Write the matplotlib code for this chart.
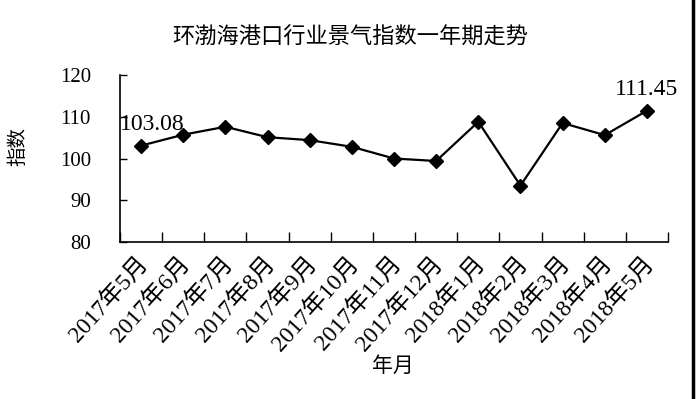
import numpy as np
import matplotlib
matplotlib.use('Agg')
import matplotlib.pyplot as plt
import matplotlib.transforms as mtransforms
from matplotlib.lines import Line2D

plt.rcParams['font.family'] = ['Liberation Serif', 'Noto Sans CJK SC', 'DejaVu Sans']

# data
months = ['2017年5月', '2017年6月', '2017年7月', '2017年8月', '2017年9月',
          '2017年10月', '2017年11月', '2017年12月', '2018年1月', '2018年2月',
          '2018年3月', '2018年4月', '2018年5月']
index_vals = [103.08, 105.7, 107.6, 105.1, 104.4, 102.8, 100.0, 99.4,
              108.8, 93.5, 108.5, 105.6, 111.45]
yticks = [80, 90, 100, 110, 120]

fig = plt.figure(figsize=(6.96, 3.99), dpi=100)
ax = fig.add_axes([120/696, 1-242/399, (668-120)/696, (242-75)/399])

x = np.arange(len(months))
ax.plot(x, index_vals, color='black', lw=1.6, marker='D', ms=7,
        mfc='black', mec='black')

ax.set_xlim(-0.5, len(months)-0.5)
ax.set_ylim(80, 120)
ax.set_yticks(yticks)
ax.set_yticklabels([str(v) for v in yticks], fontsize=15)
ax.tick_params(axis='y', direction='in', length=5, width=1, pad=21)

# category labels with ticks at boundaries
ax.set_xticks(x)
ax.set_xticklabels(months, fontsize=17, rotation=48, ha='right', va='top',
                   rotation_mode='anchor')
ax.tick_params(axis='x', which='major', length=0, pad=8)
ax.set_xticks(np.arange(-0.5, len(months), 1.0), minor=True)
ax.tick_params(axis='x', which='minor', direction='in', length=7, width=1)
off = mtransforms.ScaledTranslation(-4/100, 0, fig.dpi_scale_trans)
for lab in ax.get_xticklabels():
    lab.set_transform(lab.get_transform() + off)

for s in ['top', 'right']:
    ax.spines[s].set_visible(False)
for s in ['left', 'bottom']:
    ax.spines[s].set_linewidth(1.2)

# value labels on first and last point
ax.annotate('%.2f' % index_vals[0], (x[0], index_vals[0]), xytext=(-15, 15),
            textcoords='offset points', fontsize=17, ha='left', va='center')
ax.annotate('%.2f' % index_vals[-1], (x[-1], index_vals[-1]), xytext=(0, 15),
            textcoords='offset points', fontsize=17, ha='center', va='center')

fig.text(350/696, 1-38/399, '环渤海港口行业景气指数一年期走势', fontsize=16,
         ha='center', va='center')
fig.text(18/696, 1-147/399, '指数', fontsize=14, rotation=90,
         ha='center', va='center')
fig.text(393/696, 1-367/399, '年月', fontsize=15, ha='center', va='center')

# frame edge on the right
fig.add_artist(Line2D([693/696, 693/696], [0, 1], color='black', lw=2.5,
                      transform=fig.transFigure))

fig.savefig('out.png', dpi=100)
